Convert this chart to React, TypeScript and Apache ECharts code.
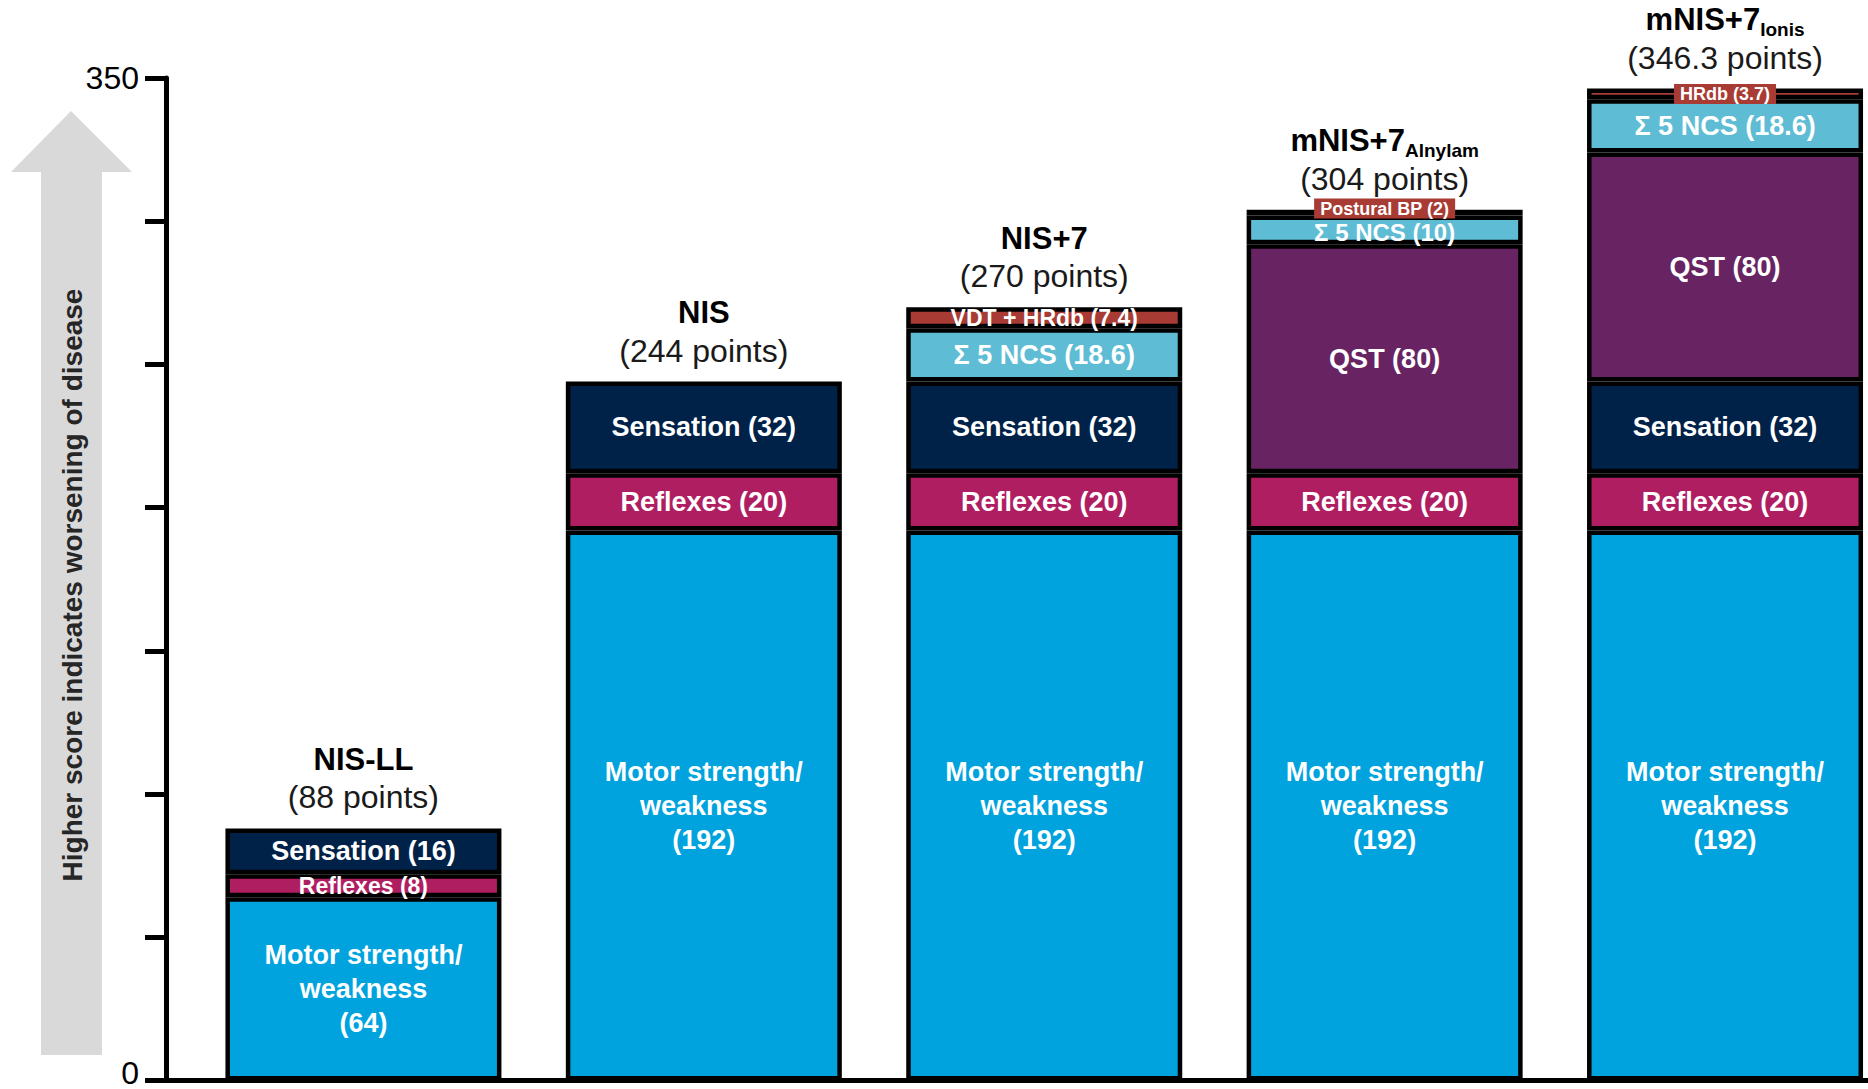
import React, { useEffect, useRef } from 'react';
import * as echarts from 'echarts';

// Neuropathy impairment scales and the sub-scores that make up each total
const scaleNames = ['NIS-LL', 'NIS', 'NIS+7', 'mNIS+7', 'mNIS+7'];
const scaleSubscripts = ['', '', '', 'Alnylam', 'Ionis'];

const motorStrength = [64, 192, 192, 192, 192];
const reflexes = [8, 20, 20, 20, 20];
const sensation = [16, 32, 32, null, 32];
const qst = [null, null, null, 80, 80];
const ncs = [null, null, 18.6, 10, 18.6];
const vdtHrdb = [null, null, 7.4, null, null];
const posturalBp = [null, null, null, 2, null];
const hrdb = [null, null, null, null, 3.7];

const yAxisMax = 350;
const yTickStep = 50;
const yLabelledTicks = [0, 350];

const arrowCaption = 'Higher score indicates worsening of disease';

const FONT = '"Liberation Sans", Arial, Helvetica, sans-serif';
const RED = '#a83b34';

type Part = {
  key: string;
  values: (number | null)[];
  color: string;
  text: (v: number) => string;
  label?: Record<string, unknown>;
  // style tweaks for thin segments (value below 12)
  thinLabel?: Record<string, unknown>;
};

const parts: Part[] = [
  {
    key: 'Motor strength/weakness',
    values: motorStrength,
    color: '#00a3dd',
    text: (v) => `Motor strength/\nweakness\n(${v})`,
    label: { lineHeight: 34 },
  },
  {
    key: 'Reflexes',
    values: reflexes,
    color: '#b01e62',
    text: (v) => `Reflexes (${v})`,
    thinLabel: { fontSize: 23 },
  },
  { key: 'Sensation', values: sensation, color: '#002248', text: (v) => `Sensation (${v})` },
  { key: 'QST', values: qst, color: '#682462', text: (v) => `QST (${v})` },
  {
    key: 'NCS',
    values: ncs,
    color: '#5ebcd4',
    text: (v) => `Σ 5 NCS (${v})`,
    thinLabel: { fontSize: 24, offset: [0, 3] },
  },
  {
    key: 'VDT + HRdb',
    values: vdtHrdb,
    color: RED,
    text: (v) => `VDT + HRdb (${v})`,
    label: { fontSize: 23 },
  },
  {
    key: 'Postural BP',
    values: posturalBp,
    color: RED,
    text: (v) => `Postural BP (${v})`,
    label: { fontSize: 18, backgroundColor: RED, padding: [1, 6], offset: [0, -4] },
  },
  {
    key: 'HRdb',
    values: hrdb,
    color: RED,
    text: (v) => `HRdb (${v})`,
    label: { fontSize: 18, backgroundColor: RED, padding: [1, 6] },
  },
];

const totals = scaleNames.map((_, i) =>
  Number(parts.reduce((sum, p) => sum + (p.values[i] ?? 0), 0).toFixed(1))
);

const BAR_WIDTH = 276;

// Data items are [score, scaleIndex]; the score comes first so it is the dimension that stacks.
const encodeScoreFirst = { y: 0, x: 1 };

function buildOption() {
  const partSeries = parts.map((p) => ({
    type: 'bar',
    name: p.key,
    stack: 'score',
    barWidth: BAR_WIDTH,
    encode: encodeScoreFirst,
    data: p.values.map((v, i) => ({
      value: [v == null ? '-' : v, i],
      label: v != null && v < 12 && p.thinLabel ? p.thinLabel : undefined,
    })),
    itemStyle: { color: p.color, borderColor: '#000', borderWidth: 4.5 },
    label: {
      show: true,
      position: 'inside',
      color: '#fff',
      fontWeight: 'bold',
      fontFamily: FONT,
      fontSize: 27,
      formatter: (params: any) => {
        const v = params.value[0];
        return typeof v === 'number' ? p.text(v) : '';
      },
      ...(p.label || {}),
    },
    emphasis: { disabled: true },
  }));

  const titleSeries = {
    type: 'bar',
    name: 'total',
    stack: 'score',
    barWidth: BAR_WIDTH,
    encode: encodeScoreFirst,
    silent: true,
    data: totals.map((_, i) => [0, i]),
    itemStyle: { color: 'rgba(0,0,0,0)', borderWidth: 0 },
    label: {
      show: true,
      position: 'top',
      distance: 12,
      align: 'center',
      formatter: (params: any) => {
        const i = params.dataIndex;
        const sub = scaleSubscripts[i];
        return `{t|${scaleNames[i]}}${sub ? `{s|${sub}}` : ''}\n{p|(${totals[i]} points)}`;
      },
      rich: {
        t: { fontFamily: FONT, fontSize: 31, fontWeight: 'bold', color: '#000', lineHeight: 38 },
        s: {
          fontFamily: FONT,
          fontSize: 19,
          fontWeight: 'bold',
          color: '#000',
          lineHeight: 19,
          verticalAlign: 'bottom',
        },
        p: { fontFamily: FONT, fontSize: 32, color: '#1a1a1a', lineHeight: 38 },
      },
    },
    emphasis: { disabled: true },
  };

  return {
    animation: false,
    backgroundColor: '#fff',
    grid: { left: 166, right: 0, top: 78, bottom: 8.5, containLabel: false },
    xAxis: {
      type: 'value',
      min: -0.58,
      max: scaleNames.length - 1 + 0.42,
      axisLine: { show: true, onZero: false, lineStyle: { color: '#000', width: 5 } },
      axisTick: { show: false },
      axisLabel: { show: false },
      splitLine: { show: false },
    },
    yAxis: {
      type: 'value',
      min: 0,
      max: yAxisMax,
      interval: yTickStep,
      axisLine: { show: true, onZero: false, lineStyle: { color: '#000', width: 5 } },
      axisTick: { show: true, length: 21, lineStyle: { color: '#000', width: 5 } },
      axisLabel: {
        margin: 27,
        fontFamily: FONT,
        fontSize: 32,
        color: '#000',
        formatter: (v: number) => {
          if (!yLabelledTicks.includes(v)) return '';
          return v === 0 ? `{base|${v}}` : String(v);
        },
        rich: {
          base: { fontFamily: FONT, fontSize: 32, color: '#000', padding: [0, 0, 16, 0] },
        },
      },
      splitLine: { show: false },
    },
    graphic: [
      {
        type: 'polygon',
        silent: true,
        z: 0,
        shape: {
          points: [
            [71, 111],
            [132, 172],
            [102, 172],
            [102, 1055],
            [41, 1055],
            [41, 172],
            [11, 172],
          ],
        },
        style: { fill: '#d9d9d9' },
      },
      {
        type: 'text',
        silent: true,
        z: 1,
        x: 72,
        y: 585,
        rotation: Math.PI / 2,
        style: {
          text: arrowCaption,
          fontFamily: FONT,
          fontSize: 28,
          fontWeight: 'bold',
          fill: '#262626',
          align: 'center',
          verticalAlign: 'middle',
        },
      },
    ],
    series: [...partSeries, titleSeries],
  };
}

export default function App() {
  const ref = useRef<HTMLDivElement>(null);

  useEffect(() => {
    if (!ref.current) return;
    const chart = echarts.init(ref.current, undefined, { renderer: 'svg' });
    chart.setOption(buildOption() as any);
    return () => chart.dispose();
  }, []);

  return (
    <div
      ref={ref}
      style={{ position: 'fixed', left: 0, top: 0, width: 1868, height: 1089, background: '#fff' }}
    />
  );
}
